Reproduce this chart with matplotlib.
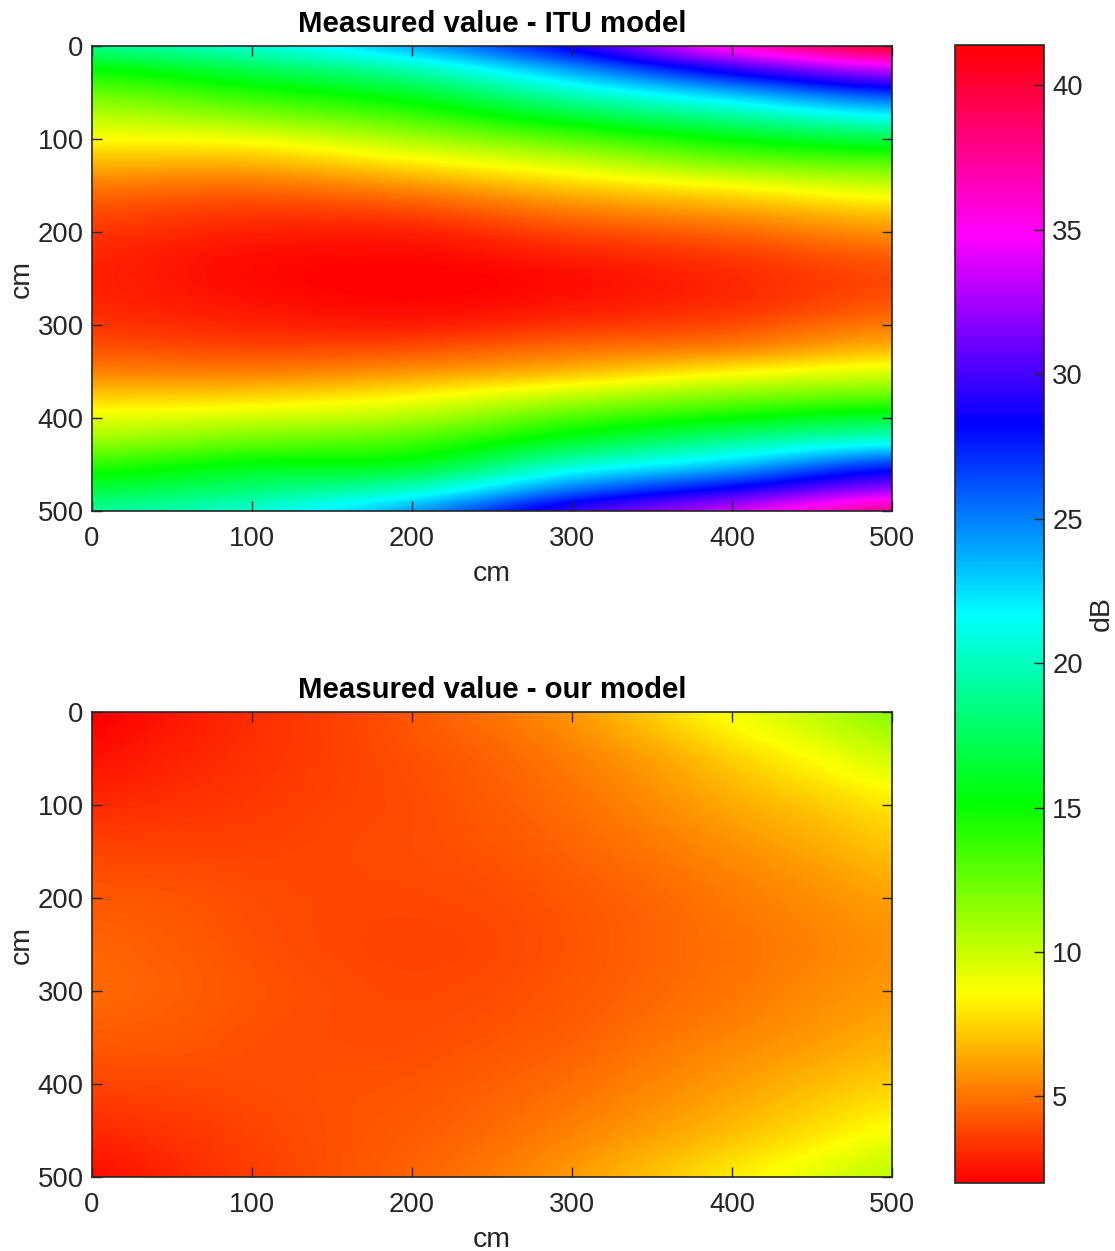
import numpy as np
import matplotlib
matplotlib.use("Agg")
import matplotlib.pyplot as plt
from matplotlib.colors import LinearSegmentedColormap

plt.rcParams['font.family'] = ['Liberation Sans', 'DejaVu Sans']

# ---------------- data ----------------
# ITU model: columns at x = 0,100,...,500 cm ; rows at y = 0,25,...,500 cm
itu_x = [0, 100, 200, 300, 400, 500]
itu_y = list(range(0, 501, 25))
itu_x0 = [18.5, 15.2, 12.6, 10.4, 8.6, 6.8, 5.2, 4.1, 3.4, 3.0, 2.9,
          3.0, 3.4, 4.2, 5.4, 7.2, 9.2, 11.3, 14.0, 16.6, 19.0]
itu_x100 = [20.4, 17.2, 14.3, 11.7, 9.0, 6.8, 5.0, 3.7, 2.9, 2.4, 2.3,
            2.5, 3.0, 3.9, 5.3, 7.4, 9.8, 12.4, 15.4, 18.0, 20.5]
itu_x200 = [23.6, 19.8, 16.4, 13.6, 10.8, 8.2, 5.9, 4.1, 2.9, 2.3, 2.0,
            2.2, 2.8, 4.1, 5.9, 8.3, 10.7, 13.4, 16.0, 20.0, 24.0]
itu_x300 = [28.6, 24.3, 20.2, 16.5, 13.0, 9.9, 7.4, 5.4, 3.9, 2.9, 2.4,
            2.6, 3.4, 4.9, 6.9, 10.0, 13.2, 16.3, 20.3, 24.9, 29.5]
itu_x400 = [35.4, 29.3, 23.7, 19.2, 15.3, 12.0, 8.7, 6.4, 4.7, 3.6, 3.1,
            3.2, 4.0, 5.5, 8.3, 11.6, 15.1, 19.0, 23.2, 28.3, 33.3]
itu_x500 = [40.0, 33.4, 27.0, 21.7, 17.0, 13.0, 10.0, 7.5, 5.8, 4.5, 3.9,
            4.2, 5.2, 6.8, 9.4, 12.5, 16.5, 21.0, 26.8, 31.8, 37.5]

# Our model: columns at x = 0,50,...,500 cm ; rows at y = 0,50,...,500 cm
our_x = list(range(0, 501, 50))
our_y = list(range(0, 501, 50))
our_y0 = [2.0, 2.6, 3.2, 3.7, 4.3, 5.0, 5.9, 7.3, 8.8, 10.1, 11.5]
our_y50 = [2.5, 2.9, 3.3, 3.7, 4.1, 4.6, 5.3, 6.2, 7.4, 8.6, 9.7]
our_y100 = [3.1, 3.3, 3.5, 3.8, 4.0, 4.4, 4.9, 5.6, 6.4, 7.2, 8.0]
our_y150 = [3.8, 3.8, 3.8, 3.9, 4.0, 4.2, 4.6, 5.1, 5.7, 6.3, 7.0]
our_y200 = [4.3, 4.2, 4.0, 3.9, 3.9, 4.0, 4.3, 4.7, 5.2, 5.7, 6.2]
our_y250 = [4.6, 4.4, 4.1, 3.9, 3.8, 3.9, 4.2, 4.6, 5.0, 5.4, 5.8]
our_y300 = [4.7, 4.5, 4.2, 4.0, 3.9, 4.0, 4.3, 4.7, 5.1, 5.6, 6.0]
our_y350 = [4.4, 4.3, 4.1, 4.0, 4.0, 4.2, 4.5, 5.0, 5.5, 6.0, 6.5]
our_y400 = [3.8, 3.9, 4.0, 4.1, 4.2, 4.5, 4.9, 5.5, 6.1, 6.8, 7.4]
our_y450 = [3.1, 3.4, 3.8, 4.1, 4.4, 4.8, 5.4, 6.1, 6.9, 7.8, 8.7]
our_y500 = [2.4, 3.0, 3.6, 4.1, 4.6, 5.2, 6.0, 7.0, 8.1, 9.2, 10.2]

cbar_ticks = [5, 10, 15, 20, 25, 30, 35, 40]
vmin, vmax = 2.0, 41.4

itu = np.array([itu_x0, itu_x100, itu_x200, itu_x300, itu_x400, itu_x500]).T
our = np.array([our_y0, our_y50, our_y100, our_y150, our_y200, our_y250,
                our_y300, our_y350, our_y400, our_y450, our_y500])

cmap = LinearSegmentedColormap.from_list(
    'mhsv', ['#ff0000', '#ffff00', '#00ff00', '#00ffff', '#0000ff', '#ff00ff', '#ff0000'], N=512)

W, H = 1115, 1251
fig = plt.figure(figsize=(W / 100, H / 100), dpi=100)

axc = '#262626'
fs = 19.8
lfs = 20.5
tfs = 21.2


def panel(rect, data, xs, ys, title):
    ax = fig.add_axes(rect)
    dx = xs[1] - xs[0]
    dy = ys[1] - ys[0]
    im = ax.imshow(data, cmap=cmap, vmin=vmin, vmax=vmax, aspect='auto',
                   interpolation='catrom', interpolation_stage='data',
                   extent=[xs[0] - dx / 2, xs[-1] + dx / 2, ys[-1] + dy / 2, ys[0] - dy / 2])
    ax.set_xlim(0, 500)
    ax.set_ylim(500, 0)
    ax.set_xticks([0, 100, 200, 300, 400, 500])
    ax.set_yticks([0, 100, 200, 300, 400, 500])
    ax.tick_params(direction='in', top=True, right=True, length=7, width=1,
                   color=axc, labelcolor=axc, labelsize=fs)
    ax.tick_params(axis='x', pad=11)
    ax.tick_params(axis='y', pad=6)
    for s in ax.spines.values():
        s.set_color(axc)
        s.set_linewidth(1.2)
    ax.set_xlabel('cm', fontsize=lfs, color=axc, labelpad=6)
    ax.set_ylabel('cm', fontsize=lfs, color=axc, labelpad=2)
    ax.set_title(title, fontsize=tfs, fontweight='bold', pad=10)
    return im


im = panel([92 / W, 1 - 511 / H, 800 / W, 465 / H], itu, itu_x, itu_y,
           'Measured value - ITU model')
panel([92 / W, 1 - 1177 / H, 800 / W, 465 / H], our, our_x, our_y,
      'Measured value - our model')

cax = fig.add_axes([955 / W, 1 - 1183 / H, 89 / W, 1138 / H])
cb = fig.colorbar(im, cax=cax, ticks=cbar_ticks)
cb.ax.tick_params(direction='in', length=7, width=1, color=axc,
                  labelcolor=axc, labelsize=fs, pad=6)
cb.outline.set_edgecolor(axc)
cb.outline.set_linewidth(1.2)
cb.set_label('dB', fontsize=lfs, color=axc, labelpad=4)

fig.savefig('out.png', dpi=100)
